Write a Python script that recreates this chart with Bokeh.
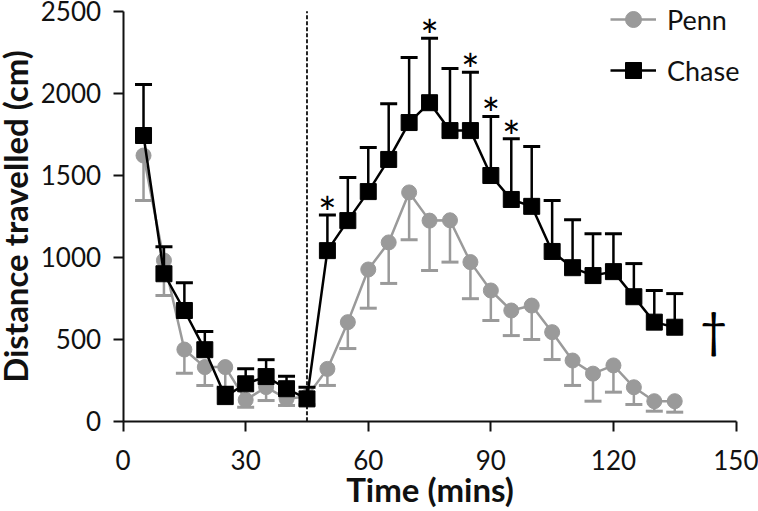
from bokeh.plotting import figure
from bokeh.models import (Range1d, FixedTicker, Legend, LegendItem, ColumnDataSource,
                          LinearAxis)
from bokeh.core.properties import value
from bokeh.embed import file_html
from bokeh.resources import INLINE

# ---- data ----
time_min = [5, 10, 15, 20, 25, 30, 35, 40, 45, 50, 55, 60, 65, 70, 75, 80, 85,
            90, 95, 100, 105, 110, 115, 120, 125, 130, 135]
penn_mean = [1620, 980, 437, 330, 330, 130, 208, 137, 150, 319, 604, 925, 1090,
             1395, 1223, 1225, 970, 797, 675, 705, 543, 370, 290, 340, 207, 122, 122]
penn_lower = [1346, 766, 293, 218, 200, 85, 126, 96, 100, 218, 443, 689, 840,
              1106, 919, 970, 747, 614, 522, 498, 376, 218, 122, 177, 102, 61, 55]
chase_mean = [1742, 899, 675, 436, 150, 228, 272, 198, 136, 1040, 1223, 1400, 1596,
              1821, 1942, 1772, 1772, 1498, 1352, 1310, 1035, 936, 888, 912, 759, 604, 573]
chase_upper = [2053, 1063, 844, 547, 207, 320, 375, 274, 207, 1258, 1486, 1669, 1936,
               2217, 2335, 2150, 2127, 1858, 1722, 1675, 1345, 1229, 1143, 1143, 961, 797, 778]
sig_times = [50, 75, 85, 90, 95]
treatment_time = 45
dagger_x = [144.5]
dagger_y = [560]
x_ticks = [0, 30, 60, 90, 120, 150]
y_ticks = [0, 500, 1000, 1500, 2000, 2500]
x_bounds = (0, 150)
y_bounds = (0, 2500)

FONT = "Lato"
GRAY = "#9a9a9a"
BLACK = "#000000"

# the frame fills the canvas; axes are pinned at 0 and limited to their bounds
p = figure(width=758, height=511, x_range=Range1d(-30.0, 155.5), y_range=Range1d(-550.6, 2565.2),
           output_backend="svg", toolbar_location=None,
           x_axis_location=None, y_axis_location=None,
           min_border_left=0, min_border_right=0, min_border_top=0, min_border_bottom=0)
p.outline_line_color = None
p.grid.visible = False
p.background_fill_color = "white"
p.border_fill_color = "white"

xaxis = LinearAxis(fixed_location=0, bounds=x_bounds, ticker=FixedTicker(ticks=x_ticks),
                   axis_label="Time (mins)")
yaxis = LinearAxis(fixed_location=0, bounds=y_bounds, ticker=FixedTicker(ticks=y_ticks),
                   axis_label="Distance travelled (cm)")
for ax in (xaxis, yaxis):
    ax.axis_line_width = 2
    ax.axis_line_color = "#111111"
    ax.major_tick_line_width = 2
    ax.major_tick_line_color = "#111111"
    ax.major_tick_out = 10
    ax.major_tick_in = 0
    ax.minor_tick_line_color = None
    ax.major_label_text_font = FONT
    ax.major_label_text_font_size = "26px"
    ax.major_label_text_color = "#111111"
    ax.axis_label_text_font = FONT
    ax.axis_label_text_font_size = "33px"
    ax.axis_label_text_font_style = "bold"
    ax.axis_label_text_color = "#111111"
xaxis.major_label_standoff = 19
xaxis.axis_label_standoff = -5
yaxis.major_label_standoff = 12
yaxis.axis_label_standoff = 3
p.add_layout(xaxis, "below")
p.add_layout(yaxis, "left")

# dashed marker of the treatment time, spanning the y axis extent
p.segment(x0=[treatment_time], y0=[y_bounds[0]], x1=[treatment_time], y1=[y_bounds[1]],
          line_color="#222222", line_width=2, line_dash="4 2")

penn_src = ColumnDataSource(dict(t=time_min, m=penn_mean, lo=penn_lower))
chase_src = ColumnDataSource(dict(t=time_min, m=chase_mean, hi=chase_upper))

# Penn error bars (downward)
p.segment(x0="t", y0="lo", x1="t", y1="m", source=penn_src, line_color=GRAY, line_width=2.5)
p.scatter(x="t", y="lo", source=penn_src, marker="dash", size=17, line_color=GRAY, line_width=3)
pl = p.line(x="t", y="m", source=penn_src, line_color=GRAY, line_width=2.5)
ps = p.scatter(x="t", y="m", source=penn_src, marker="circle", size=15,
               fill_color=GRAY, line_color=GRAY)

# Chase error bars (upward)
p.segment(x0="t", y0="m", x1="t", y1="hi", source=chase_src, line_color=BLACK, line_width=2.5)
p.scatter(x="t", y="hi", source=chase_src, marker="dash", size=17, line_color=BLACK, line_width=3)
cl = p.line(x="t", y="m", source=chase_src, line_color=BLACK, line_width=2.5)
cs = p.scatter(x="t", y="m", source=chase_src, marker="square", size=16,
               fill_color=BLACK, line_color=BLACK)

# significance stars
star_y = [chase_upper[time_min.index(t)] for t in sig_times]
p.text(x=sig_times, y=star_y, text=["*"] * len(sig_times), text_font=value(FONT),
       text_font_size="44px", text_align="center", text_baseline="middle",
       y_offset=-3, text_color=BLACK)

p.text(x=dagger_x, y=dagger_y, text=["\u2020"], text_font=value(FONT),
       text_font_size="48px", text_align="center", text_baseline="middle", text_color=BLACK)

legend = Legend(items=[LegendItem(label="Penn", renderers=[pl, ps]),
                       LegendItem(label="Chase", renderers=[cl, cs])],
                location=(610, 421), glyph_width=46, glyph_height=40, label_height=40,
                spacing=11, label_standoff=11, padding=0, margin=0,
                border_line_color=None, background_fill_alpha=0,
                label_text_font=FONT, label_text_font_size="27px", label_text_color="#111111")
p.add_layout(legend)

open("out.html", "w").write(file_html(p, INLINE))
